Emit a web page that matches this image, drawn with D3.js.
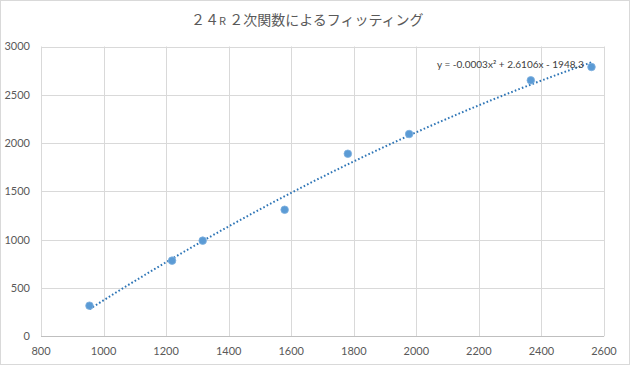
<!DOCTYPE html>
<html><head><meta charset="utf-8">
<script src="https://cdn.jsdelivr.net/npm/d3@7"></script>
<style>
html,body{margin:0;padding:0;background:#fff;}
svg{display:block;}
</style></head>
<body>
<script>
const titleParts = ["２４", "R", " ２次関数によるフィッティング"];
const xValues = [955, 1219, 1317, 1579, 1781, 1977, 2366, 2560];
const yValues = [317, 783, 990, 1310, 1890, 2094, 2650, 2788];
const xTicks = [800, 1000, 1200, 1400, 1600, 1800, 2000, 2200, 2400, 2600];
const yTicks = [0, 500, 1000, 1500, 2000, 2500, 3000];
const equationText = "y = -0.0003x² + 2.6106x - 1948.3";

const W = 630, H = 365;
const svg = d3.select("body").append("svg").attr("width", W).attr("height", H);
svg.append("rect").attr("x",0.5).attr("y",0.5).attr("width",W-1).attr("height",H-1)
  .attr("fill","#fff").attr("stroke","#d9d9d9");

const x = d3.scaleLinear().domain([800, 2600]).range([41, 604]);
const y = d3.scaleLinear().domain([0, 3000]).range([336.3, 46.5]);

const numFont = "Lato, 'Liberation Sans', sans-serif";

// gridlines
svg.append("g").selectAll("line.v").data(xTicks).join("line")
  .attr("x1", d=>Math.round(x(d))+0.5).attr("x2", d=>Math.round(x(d))+0.5)
  .attr("y1", y(3000)).attr("y2", y(0)).attr("stroke","#d9d9d9").attr("stroke-width",1);
svg.append("g").selectAll("line.h").data(yTicks.filter(d=>d>0)).join("line")
  .attr("x1", x(800)).attr("x2", x(2600))
  .attr("y1", d=>Math.round(y(d))+0.5).attr("y2", d=>Math.round(y(d))+0.5)
  .attr("stroke","#d9d9d9").attr("stroke-width",1);
// x axis line
svg.append("line").attr("x1", x(800)).attr("x2", x(2600))
  .attr("y1", Math.round(y(0))+0.5).attr("y2", Math.round(y(0))+0.5)
  .attr("stroke","#bfbfbf");

// tick labels
svg.append("g").selectAll("text").data(yTicks).join("text")
  .attr("x", 30).attr("y", d=>y(d)).attr("dy","0.35em")
  .attr("text-anchor","end").attr("font-family",numFont).attr("font-size",11)
  .attr("fill","#595959").text(d=>d);
svg.append("g").selectAll("text").data(xTicks).join("text")
  .attr("x", d=>x(d)).attr("y", 351).attr("dy","0.35em")
  .attr("text-anchor","middle").attr("font-family",numFont).attr("font-size",11)
  .attr("fill","#595959").text(d=>d);

// least squares quadratic fit from data
const mx = d3.mean(xValues);
let S = Array(5).fill(0), T = Array(3).fill(0);
xValues.forEach((xv,i)=>{ const u = xv-mx; for(let k=0;k<5;k++) S[k]+=Math.pow(u,k); for(let k=0;k<3;k++) T[k]+=yValues[i]*Math.pow(u,k); });
const A = [[S[0],S[1],S[2],T[0]],[S[1],S[2],S[3],T[1]],[S[2],S[3],S[4],T[2]]];
for(let i=0;i<3;i++){ for(let j=i+1;j<3;j++){ const f=A[j][i]/A[i][i]; for(let k=i;k<4;k++) A[j][k]-=f*A[i][k]; } }
const c = [0,0,0];
for(let i=2;i>=0;i--){ let s=A[i][3]; for(let k=i+1;k<3;k++) s-=A[i][k]*c[k]; c[i]=s/A[i][i]; }
const fit = xv => { const u=xv-mx; return c[0]+c[1]*u+c[2]*u*u; };
const xmin = d3.min(xValues), xmax = d3.max(xValues);
const fitPts = d3.range(0, 101).map(i => xmin + (xmax-xmin)*i/100);
svg.append("path").datum(fitPts)
  .attr("d", d3.line().x(d=>x(d)).y(d=>y(fit(d))))
  .attr("fill","none").attr("stroke","#2e75b6").attr("stroke-width",2)
  .attr("stroke-dasharray","1.6,2.2");

// points
svg.append("g").selectAll("circle").data(xValues).join("circle")
  .attr("cx", d=>x(d)).attr("cy", (d,i)=>y(yValues[i])).attr("r",3.8)
  .attr("fill","#5b9bd5").attr("stroke","#7fb0de").attr("stroke-width",0.8);

// equation
svg.append("text").attr("x", 437).attr("y", 64).attr("dy","0.35em")
  .attr("font-family",numFont).attr("font-size",10).attr("fill","#404040")
  .text(equationText);

// title
const title = svg.append("text").attr("x", 191).attr("y", 20).attr("dy","0.35em")
  .attr("text-anchor","start").attr("font-family","'Noto Sans CJK JP', sans-serif")
  .attr("font-size",14).attr("fill","#595959");
title.append("tspan").text(titleParts[0]);
title.append("tspan").attr("font-size",11).text(titleParts[1]);
title.append("tspan").text(titleParts[2]);
</script>
</body></html>
